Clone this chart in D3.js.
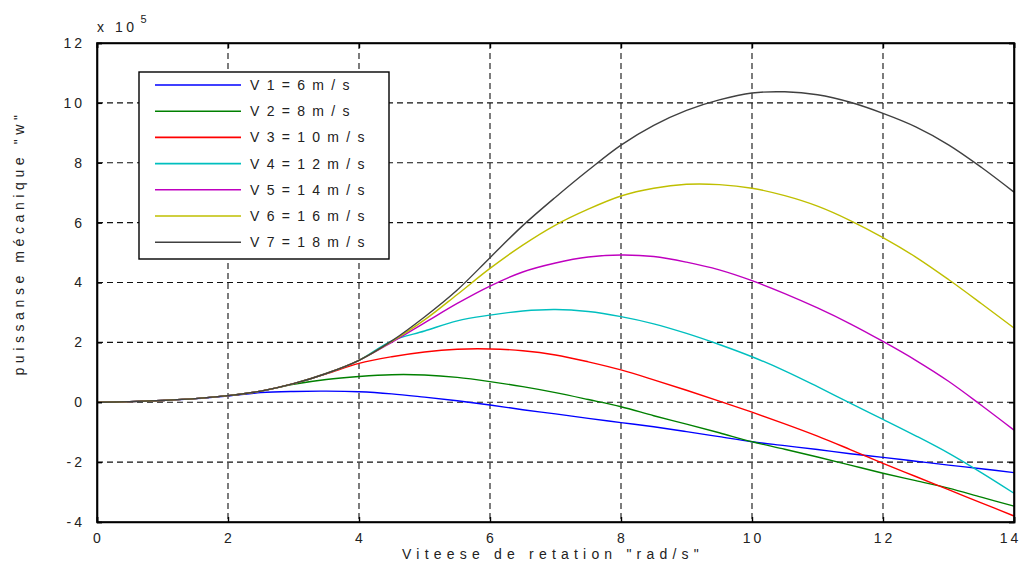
<!DOCTYPE html>
<html>
<head>
<meta charset="utf-8">
<script src="https://cdn.jsdelivr.net/npm/d3@7"></script>
<style>
  body { margin: 0; background: #fff; }
  svg { font-family: 'Liberation Sans', Arial, sans-serif; }
</style>
</head>
<body>
<svg width="1022" height="567"></svg>
<script>
// omega (rad/s)
let omega = [0, 0.5, 1, 1.5, 2, 2.5, 3, 3.5, 4, 4.5, 5, 5.5, 6, 6.5, 7, 7.5, 8, 8.5, 9, 9.5, 10, 10.5, 11, 11.5, 12, 12.5, 13, 13.5, 14];

// mechanical power, x 1e5 W
let p6 = [0, 0.02, 0.06, 0.12, 0.21, 0.32, 0.36, 0.37, 0.35, 0.28, 0.17, 0.05, -0.09, -0.25, -0.39, -0.54, -0.68, -0.82, -0.98, -1.15, -1.32, -1.45, -1.58, -1.72, -1.84, -1.97, -2.1, -2.22, -2.35];
let p8 = [0, 0.02, 0.06, 0.12, 0.22, 0.37, 0.6, 0.76, 0.86, 0.92, 0.91, 0.83, 0.69, 0.52, 0.32, 0.09, -0.15, -0.45, -0.73, -1.02, -1.32, -1.57, -1.83, -2.1, -2.37, -2.62, -2.87, -3.17, -3.47];
let p10 = [0, 0.02, 0.06, 0.12, 0.22, 0.37, 0.62, 0.95, 1.3, 1.52, 1.68, 1.77, 1.78, 1.72, 1.58, 1.35, 1.08, 0.75, 0.4, 0.04, -0.33, -0.72, -1.13, -1.58, -2.04, -2.48, -2.92, -3.36, -3.8];
let p12 = [0, 0.02, 0.06, 0.12, 0.22, 0.37, 0.62, 0.96, 1.4, 2.05, 2.38, 2.72, 2.91, 3.05, 3.1, 3.03, 2.86, 2.62, 2.3, 1.93, 1.52, 1.05, 0.52, -0.03, -0.57, -1.12, -1.7, -2.35, -3.04];
let p14 = [0, 0.02, 0.06, 0.12, 0.22, 0.37, 0.62, 0.96, 1.4, 2.0, 2.65, 3.3, 3.88, 4.35, 4.65, 4.85, 4.92, 4.87, 4.68, 4.42, 4.06, 3.63, 3.15, 2.62, 2.03, 1.4, 0.7, -0.1, -0.93];
let p16 = [0, 0.02, 0.06, 0.12, 0.22, 0.37, 0.62, 0.96, 1.4, 2.03, 2.75, 3.6, 4.47, 5.25, 5.92, 6.45, 6.89, 7.15, 7.28, 7.27, 7.15, 6.9, 6.55, 6.07, 5.5, 4.85, 4.1, 3.3, 2.48];
let p18 = [0, 0.02, 0.06, 0.12, 0.22, 0.37, 0.62, 0.96, 1.4, 2.05, 2.85, 3.75, 4.83, 5.9, 6.85, 7.75, 8.59, 9.25, 9.75, 10.1, 10.33, 10.37, 10.27, 10.02, 9.65, 9.2, 8.6, 7.85, 7.02];

let names = ['V 1 = 6 m / s', 'V 2 = 8 m / s', 'V 3 = 1 0 m / s', 'V 4 = 1 2 m / s', 'V 5 = 1 4 m / s', 'V 6 = 1 6 m / s', 'V 7 = 1 8 m / s'];
let colors = ['#0000ff', '#008000', '#ff0000', '#00bfbf', '#bf00bf', '#bfbf00', '#404040'];
let series = [p6, p8, p10, p12, p14, p16, p18];

let xTicks = [0, 2, 4, 6, 8, 10, 12, 14];
let yTicks = [-4, -2, 0, 2, 4, 6, 8, 10, 12];

let svg = d3.select('svg');
let marge = { left: 97, right: 1014, top: 43, bottom: 522 };

let x = d3.scaleLinear().domain([0, 14]).range([marge.left, marge.right]);
let y = d3.scaleLinear().domain([-4, 12]).range([marge.bottom, marge.top]);

// grid
let grid = svg.append('g');
grid.selectAll('.vg')
  .data(xTicks.slice(1, -1))
  .enter().append('line')
  .attr('x1', function(d) { return x(d); })
  .attr('x2', function(d) { return x(d); })
  .attr('y1', marge.top).attr('y2', marge.bottom)
  .attr('stroke', '#111').attr('stroke-width', 1.1)
  .attr('stroke-dasharray', '6,4');
grid.selectAll('.hg')
  .data(yTicks.slice(1, -1))
  .enter().append('line')
  .attr('y1', function(d) { return y(d); })
  .attr('y2', function(d) { return y(d); })
  .attr('x1', marge.left).attr('x2', marge.right)
  .attr('stroke', '#111').attr('stroke-width', 1.1)
  .attr('stroke-dasharray', '6,4');

// curves
let line = d3.line()
  .x(function(d, i) { return x(omega[i]); })
  .y(function(d) { return y(d); })
  .curve(d3.curveCatmullRom.alpha(0.5));

svg.append('g')
  .selectAll('path')
  .data(series)
  .enter().append('path')
  .attr('d', function(d) { return line(d); })
  .attr('fill', 'none')
  .attr('stroke', function(d, i) { return colors[i]; })
  .attr('stroke-width', 1.4);

// axes (MATLAB style, ticks inward)
let fmt = function(d) { return String(d); };
let axB = svg.append('g')
  .attr('transform', 'translate(0,' + marge.bottom + ')')
  .call(d3.axisBottom(x).tickValues(xTicks).tickSize(-5).tickPadding(8).tickFormat(fmt));
let axL = svg.append('g')
  .attr('transform', 'translate(' + marge.left + ',0)')
  .call(d3.axisLeft(y).tickValues(yTicks).tickSize(-5).tickPadding(14).tickFormat(fmt));
svg.append('g')
  .attr('transform', 'translate(0,' + marge.top + ')')
  .call(d3.axisTop(x).tickValues(xTicks).tickSize(-5).tickFormat(''));
svg.append('g')
  .attr('transform', 'translate(' + marge.right + ',0)')
  .call(d3.axisRight(y).tickValues(yTicks).tickSize(-5).tickFormat(''));

svg.selectAll('.domain').attr('stroke', '#000').attr('stroke-width', 1.6);
svg.selectAll('.tick line').attr('stroke', '#000').attr('stroke-width', 1.4);
svg.selectAll('.tick text')
  .attr('font-size', 14)
  .attr('fill', '#222')
  .style('letter-spacing', '3px')
  .attr('font-family', "'Liberation Sans', Arial, sans-serif");
axB.selectAll('.tick text')
  .attr('dy', '0.9em')
  .attr('dx', function(d) { return d == 14 ? -4 : 1; });
axL.selectAll('.tick text').attr('dx', '2');

// frame box
svg.append('rect')
  .attr('x', marge.left).attr('y', marge.top)
  .attr('width', marge.right - marge.left).attr('height', marge.bottom - marge.top)
  .attr('fill', 'none').attr('stroke', '#000').attr('stroke-width', 1.6);

// exponent
let ex = svg.append('text')
  .attr('x', 97).attr('y', 32)
  .attr('font-size', 14).attr('fill', '#222')
  .style('letter-spacing', '3.5px');
ex.append('tspan').text('x  10');
ex.append('tspan').attr('dy', -9).attr('font-size', 11).attr('dx', 3).text('5');

// axis labels
svg.append('text')
  .attr('x', 553).attr('y', 559)
  .attr('text-anchor', 'middle')
  .attr('font-size', 14).attr('fill', '#222')
  .style('letter-spacing', '5.2px')
  .text('Viteese de retation "rad/s"');

svg.append('text')
  .attr('transform', 'translate(24,243) rotate(-90)')
  .attr('text-anchor', 'middle')
  .attr('font-size', 14).attr('fill', '#222')
  .style('letter-spacing', '4.6px')
  .text('puissanse mécanique "w"');

// legend
let lg = svg.append('g');
lg.append('rect')
  .attr('x', 139).attr('y', 72)
  .attr('width', 250).attr('height', 187)
  .attr('fill', '#fff').attr('stroke', '#000').attr('stroke-width', 1.4);
let rows = lg.selectAll('.row')
  .data(names)
  .enter().append('g')
  .attr('transform', function(d, i) { return 'translate(0,' + (85 + i * 26.2) + ')'; });
rows.append('line')
  .attr('x1', 155).attr('x2', 241)
  .attr('stroke', function(d, i) { return colors[i]; })
  .attr('stroke-width', 1.6);
rows.append('text')
  .attr('x', 250).attr('dy', '0.35em')
  .attr('font-size', 14).attr('fill', '#222')
  .style('letter-spacing', '1.7px')
  .text(function(d) { return d; });
</script>
</body>
</html>
